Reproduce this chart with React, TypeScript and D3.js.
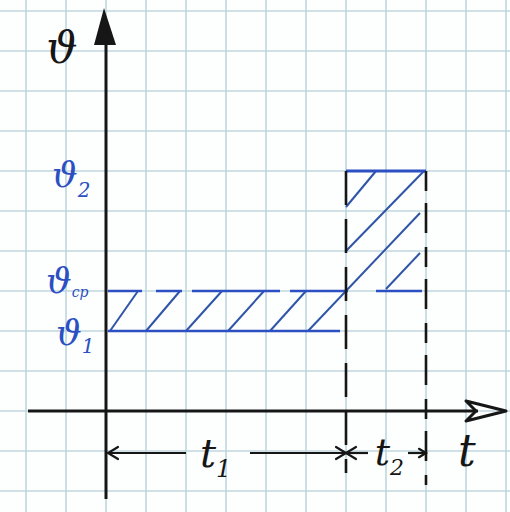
import React from "react";
import * as d3 from "d3";

const W = 510;
const H = 512;

// time intervals (in grid cells) and speeds on each interval
const durations = [6, 2];
const speeds = [2, 6];
const vAvg = 3;
const speedLabels = ["1", "ср", "2"];
const timeLabels = ["1", "2"];

// hatch strokes, start and end points as [t, v]
const hatchStart = [[0.1, 2], [1, 2], [2, 2], [3.05, 2], [4.1, 2], [5.05, 2], [6, 5.1], [6, 4], [7, 3.05]];
const hatchEnd = [[0.8, 3], [1.85, 3], [2.9, 3], [3.95, 3], [5, 3], [7.85, 4.95], [6.75, 6], [7.95, 6], [7.85, 3.95]];

const gridT = d3.range(-3, 11);
const gridV = d3.range(-3, 11);

const BLUE = "#2c4fc2";
const HATCH = "#2f55a8";
const INK = "#161616";
const FONT = "'DejaVu Serif', serif";

const x = d3.scaleLinear().domain([0, 10]).range([106, 506]);
const y = d3.scaleLinear().domain([0, 10]).range([411, 11]);

const Chevron = ({ px, py, dir, size = 10, color = INK }) => (
  <path
    d={`M${px + dir * size},${py - size * 0.6}L${px},${py}L${px + dir * size},${py + size * 0.6}`}
    fill="none"
    stroke={color}
    strokeWidth={2.2}
    strokeLinecap="round"
  />
);

const App = () => {
  const t1 = durations[0];
  const t2 = t1 + durations[1];
  const [v1, v2] = speeds;
  const arrowY = y(-1.05);

  return (
    <svg width={W} height={H} style={{ position: "absolute", left: 0, top: 0, background: "#fdfefe" }}>
      {/* graph paper */}
      {gridT.map((t) => (
        <line key={"gx" + t} x1={x(t)} x2={x(t)} y1={0} y2={H} stroke="#bfd6de" strokeWidth={1.6} />
      ))}
      {gridV.map((v) => (
        <line key={"gy" + v} x1={0} x2={W} y1={y(v)} y2={y(v)} stroke="#bfd6de" strokeWidth={1.6} />
      ))}

      {/* hatching */}
      {hatchStart.map((s, i) => (
        <line
          key={"h" + i}
          x1={x(s[0])}
          y1={y(s[1])}
          x2={x(hatchEnd[i][0])}
          y2={y(hatchEnd[i][1])}
          stroke={HATCH}
          strokeWidth={2}
        />
      ))}

      {/* speed levels */}
      <line x1={x(0.05)} x2={x(t1 - 0.15)} y1={y(v1)} y2={y(v1)} stroke={BLUE} strokeWidth={2.6} />
      <line
        x1={x(0.05)}
        x2={x(t2 - 0.1)}
        y1={y(vAvg)}
        y2={y(vAvg)}
        stroke={BLUE}
        strokeWidth={2.6}
        strokeDasharray="34 14 26 10 88 10 58 28 48"
      />
      <line x1={x(t1)} x2={x(t2)} y1={y(v2)} y2={y(v2)} stroke={BLUE} strokeWidth={2.8} />

      {/* dashed verticals */}
      <line x1={x(t1)} x2={x(t1)} y1={y(v2)} y2={y(-1.55)} stroke={INK} strokeWidth={2.6} strokeDasharray="34 14" />
      <line x1={x(t2)} x2={x(t2)} y1={y(v2)} y2={y(-1.85)} stroke={INK} strokeWidth={2.6} strokeDasharray="20 12 30 14" />

      {/* axes */}
      <line x1={x(0)} x2={x(0)} y1={y(-2.2)} y2={y(9.5)} stroke={INK} strokeWidth={3} />
      <path d={`M${x(0) - 2},8L${x(0) - 12},45L${x(0) + 10},45Z`} fill={INK} />
      <line x1={x(-1.95)} x2={x(9.3)} y1={y(0)} y2={y(0)} stroke={INK} strokeWidth={3} />
      <path
        d={`M${x(10)},${y(0)}L${x(9)},${y(0) - 10}L${x(9.25)},${y(0)}L${x(9)},${y(0) + 10}Z`}
        fill="none"
        stroke={INK}
        strokeWidth={3}
        strokeLinejoin="round"
      />

      {/* interval arrows */}
      <line x1={x(0.05)} x2={x(2)} y1={arrowY} y2={arrowY} stroke={INK} strokeWidth={2.2} />
      <Chevron px={x(0.05)} py={arrowY} dir={1} />
      <line x1={x(3.6)} x2={x(t1)} y1={arrowY} y2={arrowY} stroke={INK} strokeWidth={2.2} />
      <Chevron px={x(t1)} py={arrowY} dir={-1} />
      <line x1={x(t1)} x2={x(t1 + 0.55)} y1={arrowY} y2={arrowY} stroke={INK} strokeWidth={2.2} />
      <Chevron px={x(t1)} py={arrowY} dir={1} />
      <line x1={x(t1 + 1.55)} x2={x(t2)} y1={arrowY} y2={arrowY} stroke={INK} strokeWidth={2.2} />
      <Chevron px={x(t2)} py={arrowY} dir={-1} size={7} />

      {/* labels */}
      <g fontFamily={FONT} fontStyle="italic">
        <text x={62} y={63} fontSize={44} fill={INK} textAnchor="middle">ϑ</text>

        <text x={52} y={y(v2) + 16} fontSize={36} fill={BLUE}>
          ϑ<tspan fontSize={20} dy={10}>{speedLabels[2]}</tspan>
        </text>
        <text x={46} y={y(vAvg) + 2} fontSize={36} fill={BLUE}>
          ϑ<tspan fontSize={14} dy={4}>{speedLabels[1]}</tspan>
        </text>
        <text x={56} y={y(v1) + 14} fontSize={36} fill={BLUE}>
          ϑ<tspan fontSize={20} dy={8}>{speedLabels[0]}</tspan>
        </text>

        <text x={x(2.35)} y={arrowY + 14} fontSize={40} fill={INK}>
          t<tspan fontSize={24} dy={10}>{timeLabels[0]}</tspan>
        </text>
        <text x={x(t1 + 0.72)} y={arrowY + 12} fontSize={38} fill={INK}>
          t<tspan fontSize={22} dy={10}>{timeLabels[1]}</tspan>
        </text>
        <text x={x(8.8)} y={arrowY + 13} fontSize={44} fill={INK}>t</text>
      </g>
    </svg>
  );
};

export default App;
